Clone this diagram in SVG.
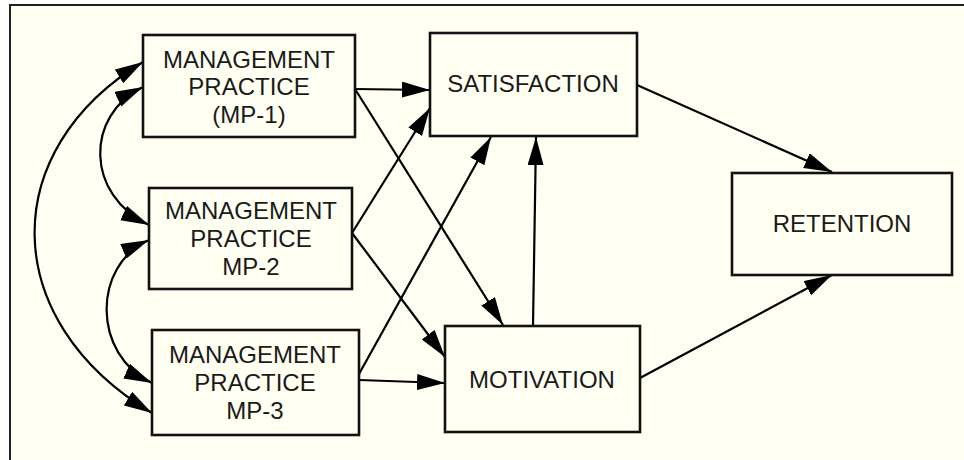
<svg xmlns="http://www.w3.org/2000/svg" width="964" height="460" viewBox="0 0 964 460">
  <defs>
    <marker id="arrow" markerUnits="userSpaceOnUse" markerWidth="30" markerHeight="18" refX="28" refY="8" orient="auto-start-reverse" viewBox="0 0 30 18">
      <path d="M0,0 L28,8 L0,16 z" fill="#000"/>
    </marker>
    <style>
      .box { fill: #fffff2; stroke: #111; stroke-width: 2.6; }
      .lbl { font-family: "Liberation Sans", Arial, sans-serif; font-size: 24px; fill: #1a1a1a; text-anchor: middle; }
      .edge { fill: none; stroke: #000; stroke-width: 2.2; marker-end: url(#arrow); }
      .both { marker-start: url(#arrow); }
    </style>
  </defs>

  <!-- page and frame -->
  <rect x="0" y="0" width="964" height="460" fill="#ffffff"/>
  <rect x="10" y="5" width="954" height="455" fill="#fffff2"/>
  <path d="M10,460 L10,5 L964,5" fill="none" stroke="#222" stroke-width="2"/>

  <!-- connectors -->
  <g id="connectors">
    <!-- correlations between the management practices -->
    <path class="edge both" d="M143,62 C-3,150 -3,320 152,413"/>
    <path class="edge both" d="M143,87 C85,115 85,195 149,225"/>
    <path class="edge both" d="M149,240 C92,265 92,355 152,383"/>
    <!-- practices to outcomes -->
    <path class="edge" d="M355,89 L430,90"/>
    <path class="edge" d="M355,89 L503,325"/>
    <path class="edge" d="M352,233 L430,108"/>
    <path class="edge" d="M352,233 L445,357"/>
    <path class="edge" d="M359,374 L491,137"/>
    <path class="edge" d="M359,380 L445,383"/>
    <path class="edge" d="M533,326 L536,137"/>
    <path class="edge" d="M637,85 L832,172"/>
    <path class="edge" d="M640,378 L832,275"/>
  </g>

  <g id="mp1">
    <rect class="box" x="143" y="35" width="212" height="102"/>
    <text class="lbl" x="249" y="68">MANAGEMENT</text>
    <text class="lbl" x="249" y="95">PRACTICE</text>
    <text class="lbl" x="249" y="123">(MP-1)</text>
  </g>
  <g id="mp2">
    <rect class="box" x="149" y="188" width="203" height="101"/>
    <text class="lbl" x="251" y="219">MANAGEMENT</text>
    <text class="lbl" x="251" y="247">PRACTICE</text>
    <text class="lbl" x="251" y="275">MP-2</text>
  </g>
  <g id="mp3">
    <rect class="box" x="152" y="330" width="207" height="105"/>
    <text class="lbl" x="255" y="363">MANAGEMENT</text>
    <text class="lbl" x="255" y="391">PRACTICE</text>
    <text class="lbl" x="255" y="419">MP-3</text>
  </g>
  <g id="satisfaction">
    <rect class="box" x="430" y="33" width="207" height="103"/>
    <text class="lbl" x="533" y="92">SATISFACTION</text>
  </g>
  <g id="motivation">
    <rect class="box" x="445" y="326" width="195" height="106"/>
    <text class="lbl" x="542" y="388">MOTIVATION</text>
  </g>
  <g id="retention">
    <rect class="box" x="732" y="173" width="220" height="102"/>
    <text class="lbl" x="842" y="232">RETENTION</text>
  </g>
</svg>
